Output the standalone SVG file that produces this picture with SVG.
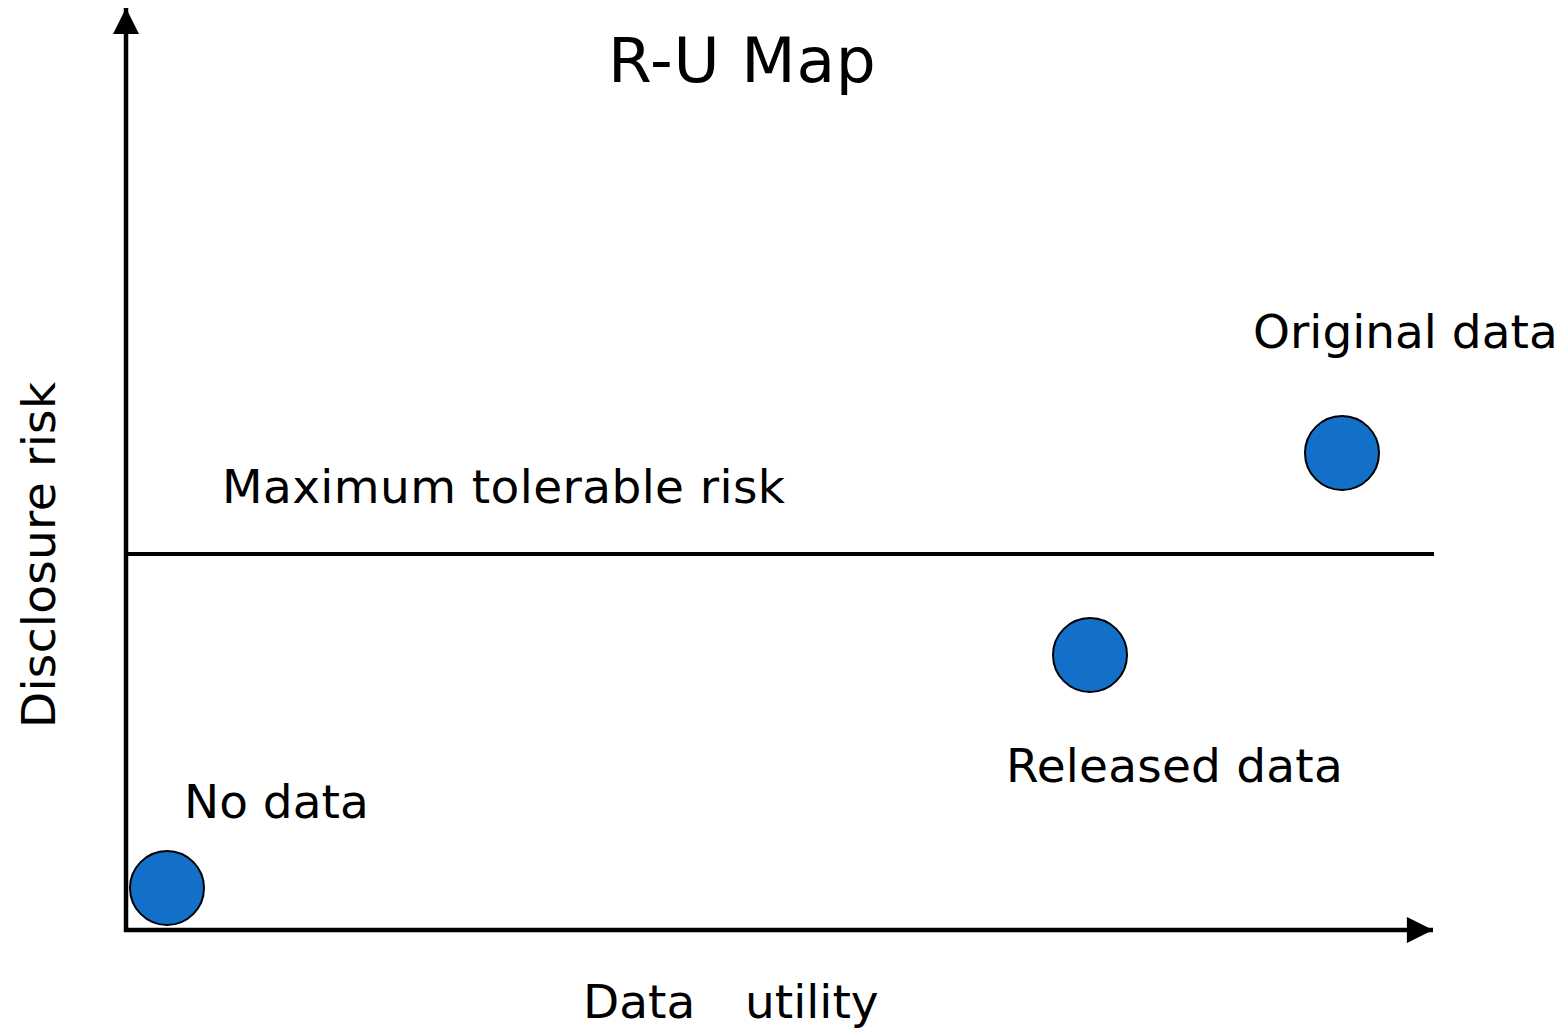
<svg xmlns="http://www.w3.org/2000/svg" width="1568" height="1028" viewBox="0 0 1568 1028">
  <style>
    .lbl { font-family: "DejaVu Sans", Verdana, sans-serif; font-size: 47px; fill: #000; }
    .title { font-family: "DejaVu Sans", Verdana, sans-serif; font-size: 63px; fill: #000; }
    .axis { stroke: #000; stroke-width: 4.5; fill: none; }
    .dot { fill: #1270C8; stroke: #000; stroke-width: 2; }
  </style>
  <defs>
    <marker id="arrow" viewBox="0 0 10 10" refX="10" refY="5" markerWidth="6.2" markerHeight="5.8" markerUnits="strokeWidth" orient="auto">
      <path d="M0,0 L10,5 L0,10 Z" fill="#000"/>
    </marker>
  </defs>

  <rect width="1568" height="1028" fill="#fff"/>

  <text class="title" x="608" y="82" letter-spacing="0.8">R-U Map</text>

  <g id="connectors">
    <!-- vertical risk axis -->
    <line class="axis" x1="126" y1="932" x2="126" y2="8" marker-end="url(#arrow)"/>
    <!-- horizontal utility axis -->
    <line class="axis" x1="124" y1="930" x2="1433" y2="930" marker-end="url(#arrow)"/>
    <!-- risk threshold -->
    <line x1="128" y1="554" x2="1434" y2="554" stroke="#000" stroke-width="4"/>
  </g>

  <text class="lbl" x="222" y="503" letter-spacing="0.4">Maximum tolerable risk</text>
  <text class="lbl" transform="translate(55,728) rotate(-90)" letter-spacing="0.3">Disclosure risk</text>
  <text class="lbl" y="1018"><tspan x="583">Data</tspan><tspan x="745">utility</tspan></text>

  <g id="no-data">
    <circle class="dot" cx="167" cy="888" r="37"/>
    <text class="lbl" x="184" y="818">No data</text>
  </g>
  <g id="released-data">
    <circle class="dot" cx="1090" cy="655" r="37"/>
    <text class="lbl" x="1006" y="782" letter-spacing="0.2">Released data</text>
  </g>
  <g id="original-data">
    <circle class="dot" cx="1342" cy="453" r="37"/>
    <text class="lbl" x="1253" y="348">Original data</text>
  </g>
</svg>
